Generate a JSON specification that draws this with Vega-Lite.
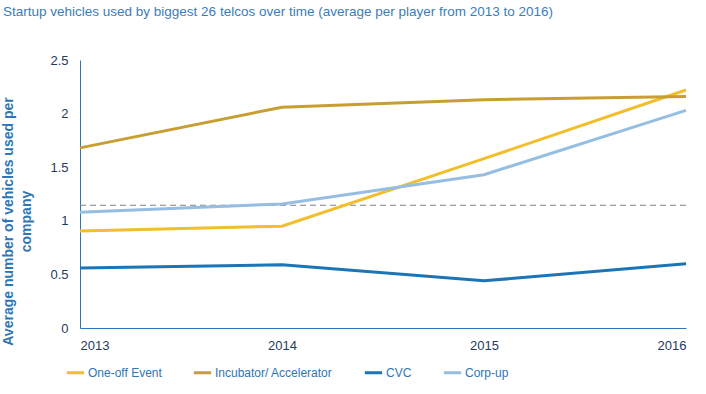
{
  "$schema": "https://vega.github.io/schema/vega-lite/v6.json",
  "width": 606,
  "height": 268,
  "autosize": "none",
  "padding": {"left": 80, "top": 60, "right": 20, "bottom": 66},
  "background": "white",
  "config": {
    "view": {"stroke": null},
    "font": "Liberation Sans"
  },
  "title": {
    "text": "Startup vehicles used by biggest 26 telcos over time (average per player from 2013 to 2016)",
    "anchor": "start",
    "frame": "group",
    "dx": -77,
    "offset": 36,
    "fontSize": 13.5,
    "fontWeight": "normal",
    "color": "#3A7DBD",
    "font": "Liberation Sans"
  },
  "datasets": {
    "series": [
      {"year": 2013, "vehicle": "One-off Event", "value": 0.905},
      {"year": 2014, "vehicle": "One-off Event", "value": 0.95},
      {"year": 2015, "vehicle": "One-off Event", "value": 1.58},
      {"year": 2016, "vehicle": "One-off Event", "value": 2.22},
      {"year": 2013, "vehicle": "Incubator/ Accelerator", "value": 1.68},
      {"year": 2014, "vehicle": "Incubator/ Accelerator", "value": 2.06},
      {"year": 2015, "vehicle": "Incubator/ Accelerator", "value": 2.13},
      {"year": 2016, "vehicle": "Incubator/ Accelerator", "value": 2.16},
      {"year": 2013, "vehicle": "CVC", "value": 0.56},
      {"year": 2014, "vehicle": "CVC", "value": 0.59},
      {"year": 2015, "vehicle": "CVC", "value": 0.44},
      {"year": 2016, "vehicle": "CVC", "value": 0.6},
      {"year": 2013, "vehicle": "Corp-up", "value": 1.08},
      {"year": 2014, "vehicle": "Corp-up", "value": 1.157},
      {"year": 2015, "vehicle": "Corp-up", "value": 1.43},
      {"year": 2016, "vehicle": "Corp-up", "value": 2.03}
    ],
    "avg": [{"value": 1.145}]
  },
  "layer": [
    {
      "data": {"name": "avg"},
      "mark": {"type": "rule", "color": "#808080", "strokeWidth": 1, "strokeDash": [6, 4]},
      "encoding": {"y": {"field": "value", "type": "quantitative"}}
    },
    {
      "data": {"name": "series"},
      "mark": {"type": "line", "strokeWidth": 3},
      "encoding": {
        "x": {
          "field": "year",
          "type": "quantitative",
          "scale": {"domain": [2013, 2016], "nice": false, "zero": false},
          "axis": {
            "values": [2013, 2014, 2015, 2016],
            "format": "d",
            "title": null,
            "grid": false,
            "ticks": false,
            "domainColor": "#2E75B6",
            "domainWidth": 1,
            "labelColor": "#1F3B5C",
            "labelFontSize": 13,
            "labelPadding": 11
          }
        },
        "y": {
          "field": "value",
          "type": "quantitative",
          "scale": {"domain": [0, 2.5], "nice": false},
          "axis": {
            "values": [0, 0.5, 1, 1.5, 2, 2.5],
            "format": ".1~f",
            "title": ["Average number of vehicles used per", "company"],
            "titleColor": "#2E75B6",
            "titleFontSize": 14,
            "titleFontWeight": "bold",
            "titlePadding": 16,
            "titleLineHeight": 18,
            "titleY": 161,
            "grid": false,
            "ticks": false,
            "domainColor": "#2E75B6",
            "domainWidth": 1,
            "labelColor": "#1F3B5C",
            "labelFontSize": 13,
            "labelPadding": 12
          }
        },
        "color": {
          "field": "vehicle",
          "type": "nominal",
          "scale": {
            "domain": ["One-off Event", "Incubator/ Accelerator", "CVC", "Corp-up"],
            "range": ["#F2BE2B", "#C89E32", "#1B75B6", "#95BEE2"]
          },
          "legend": {
            "title": null,
            "orient": "none",
            "legendX": -15,
            "legendY": 302,
            "direction": "horizontal",
            "symbolType": "stroke",
            "symbolSize": 300,
            "symbolStrokeWidth": 3,
            "labelColor": "#2E75B6",
            "labelFontSize": 12,
            "labelOffset": 2,
            "columnPadding": 25
          }
        }
      }
    }
  ]
}
